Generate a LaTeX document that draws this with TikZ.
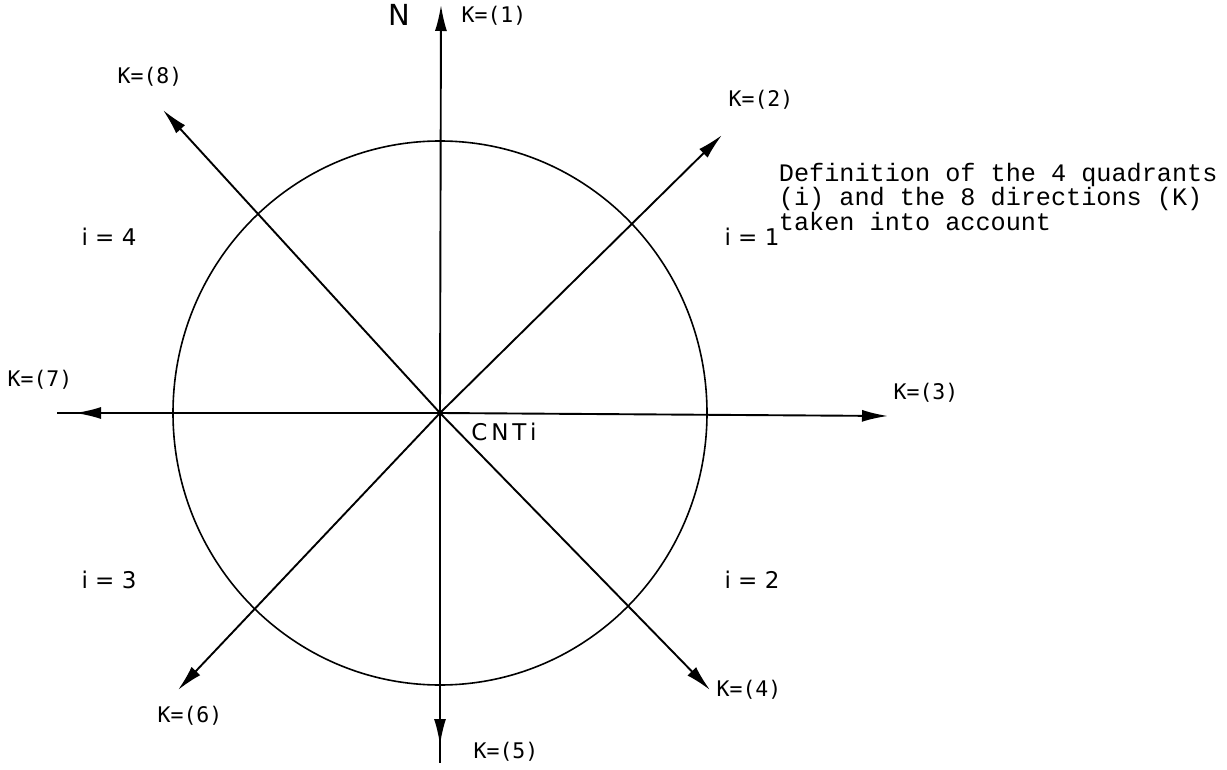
\documentclass[tikz,border=0pt]{standalone}
\usepackage{fontspec}
\newfontfamily\labfont{DejaVu Sans Mono}
\newfontfamily\qfont{DejaVu Sans}
\newfontfamily\typefont{Liberation Mono}
\usetikzlibrary{arrows.meta}
\begin{document}
\begin{tikzpicture}[x=1pt,y=-1pt, line width=1.9pt,
  arr/.style={-{Latex[length=26pt,width=12pt]}},
  klab/.style={font=\labfont\fontsize{21.5}{24}\selectfont, inner sep=0pt},
  qlab/.style={font=\qfont\fontsize{23}{26}\selectfont, inner sep=0pt},
  deflab/.style={font=\typefont\fontsize{25.2}{23}\selectfont, inner sep=0pt, align=left, anchor=north west}]
\useasboundingbox (0,0) rectangle (1227,770);
\coordinate (C) at (440,413);
\draw[line width=1.6pt] (C) ellipse [x radius=267, y radius=272];
% arrow ends
\coordinate (e1) at (441,5);
\coordinate (e2) at (722,135);
\coordinate (e3) at (888,416);
\coordinate (e4) at (710,690);
\coordinate (h5) at (440,745);
\coordinate (e5) at (440,763);
\coordinate (e6) at (178,690);
\coordinate (h7) at (75,413);
\coordinate (e7) at (57,413);
\coordinate (e8) at (163,110);
\draw[arr] (C) -- (e1);
\draw[arr] (C) -- (e2);
\draw[arr] (C) -- (e3);
\draw[arr] (C) -- (e4);
\draw (C) -- (e5);
\draw[arr] (C) -- (h5);
\draw[arr] (C) -- (e6);
\draw (C) -- (e7);
\draw[arr] (C) -- (h7);
\draw[arr] (C) -- (e8);
\fill (C) circle (3pt);
% labels
\node[font=\qfont\fontsize{29}{30}\selectfont, inner sep=0pt] (N) at (399,15) {N};
\node[klab] (k1) at (494,16) {K=(1)};
\node[klab] (k2) at (761,100) {K=(2)};
\node[klab] (k3) at (926,393) {K=(3)};
\node[klab] (k4) at (749,690) {K=(4)};
\node[klab] (k5) at (506,752) {K=(5)};
\node[klab] (k6) at (190,716) {K=(6)};
\node[klab] (k7) at (40,380) {K=(7)};
\node[klab] (k8) at (150,77) {K=(8)};
\node[qlab] (cnt) at (504,432) {C\,N\,T\,i};
\node[qlab] (q4) at (109,237) {i = 4};
\node[qlab] (q1) at (752,237) {i = 1};
\node[qlab] (q3) at (109,580) {i = 3};
\node[qlab] (q2) at (752,580) {i = 2};
\node[deflab] (def) at (778,162) {Definition of the 4 quadrants\\(i) and the 8 directions (K)\\taken into account};
\end{tikzpicture}
\end{document}
